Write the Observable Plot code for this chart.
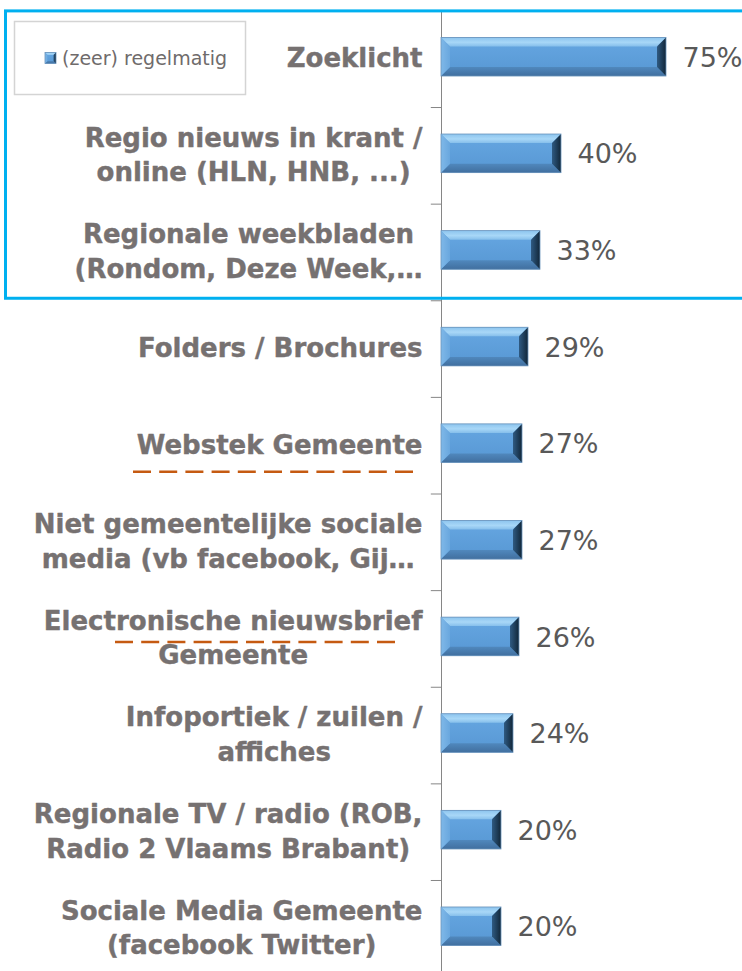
<!DOCTYPE html>
<html><head><meta charset="utf-8">
<script src="https://cdn.jsdelivr.net/npm/d3@7"></script>
<script src="https://cdn.jsdelivr.net/npm/@observablehq/plot@0.6"></script>
<style>body{margin:0;background:#fff} #chart{position:relative;width:742px;height:971px;overflow:hidden}</style>
</head><body><div id="chart"></div>
<script>
const categories = [
  "Zoeklicht",
  "Regio nieuws in krant /\nonline (HLN, HNB, ...)",
  "Regionale weekbladen\n(Rondom, Deze Week,…",
  "Folders / Brochures",
  "Webstek Gemeente",
  "Niet gemeentelijke sociale\nmedia (vb facebook, Gij…",
  "Electronische nieuwsbrief\nGemeente",
  "Infoportiek / zuilen /\naffiches",
  "Regionale TV / radio (ROB,\nRadio 2 Vlaams Brabant)",
  "Sociale Media Gemeente\n(facebook Twitter)"
];
const values = [75, 40, 33, 29, 27, 27, 26, 24, 20, 20];
const valueLabels = values.map(v => v + "%");
const seriesName = "(zeer) regelmatig";
const highlighted = categories.slice(0, 3);
const underlined = ["Webstek Gemeente", "Electronische nieuwsbrief\nGemeente"];

const data = categories.map((c, i) => ({category: c, value: values[i], label: valueLabels[i]}));

const plot = Plot.plot({
  width: 742, height: 971,
  marginLeft: 441, marginRight: 1, marginTop: 10, marginBottom: 0,
  x: {domain: [0, 100], range: [441, 741], axis: null},
  y: {domain: categories, range: [10.4, 976.6], padding: 0, round: false, axis: null},
  style: {background: "#fff", overflow: "visible"},
  marks: [
    Plot.text(data, {x: 0, y: "category", text: "category", dx: -19, dy: -3, textAnchor: "end",
      fontSize: 26, fontWeight: "bold", fill: "#767171", stroke: "#767171", strokeWidth: 0.4,
      lineHeight: 1.33, fontFamily: "DejaVu Sans"}),
    Plot.ruleX([0], {stroke: "#868686", strokeWidth: 1}),
    Plot.ruleY(categories.slice(1), {y: d => d, x1: -3.4, x2: 0, dy: -48.3, stroke: "#868686"}),
    Plot.barX(data, {x: "value", y: "category", insetTop: 27, insetBottom: 31, fill: "#5b9bd5"}),
    Plot.text(data, {x: "value", y: "category", text: "label", dx: 16, dy: -1, textAnchor: "start",
      fontSize: 27, fill: "#595959", fontFamily: "DejaVu Sans"})
  ]
});
document.getElementById("chart").append(plot);

const svg = d3.select(plot);
const defs = svg.insert("defs", ":first-child");
function lin(id, stops, horiz) {
  const g = defs.append("linearGradient").attr("id", id)
    .attr("x1", 0).attr("y1", 0).attr("x2", horiz ? 1 : 0).attr("y2", horiz ? 0 : 1);
  stops.forEach(([o, c]) => g.append("stop").attr("offset", o).attr("stop-color", c));
}
lin("face", [[0, "#66a7e2"], [1, "#5797d3"]]);
lin("topG", [[0, "#8cc4ee"], [0.55, "#a8d7f7"], [1, "#86bfeb"]]);
lin("botG", [[0, "#5088bd"], [1, "#416f9f"]]);
lin("rightG", [[0, "#2f5a82"], [1, "#112638"]], true);
lin("leftG", [[0, "#7fb8e8"], [1, "#69a7de"]], true);

function bevel(parent, x, y, w, h, b) {
  const g = parent.append("g");
  g.append("rect").attr("x", x).attr("y", y).attr("width", w).attr("height", h).attr("fill", "url(#face)");
  const P = pts => pts.map(p => p.join(",")).join(" ");
  g.append("polygon").attr("points", P([[x, y], [x + w, y], [x + w - b, y + b], [x + b, y + b]])).attr("fill", "url(#topG)");
  g.append("polygon").attr("points", P([[x, y + h], [x + w, y + h], [x + w - b, y + h - b], [x + b, y + h - b]])).attr("fill", "url(#botG)");
  g.append("polygon").attr("points", P([[x, y], [x + b, y + b], [x + b, y + h - b], [x, y + h]])).attr("fill", "url(#leftG)");
  g.append("polygon").attr("points", P([[x + w, y], [x + w - b, y + b], [x + w - b, y + h - b], [x + w, y + h]])).attr("fill", "url(#rightG)");
  g.append("rect").attr("x", x).attr("y", y).attr("width", w).attr("height", h)
    .attr("fill", "none").attr("stroke", "#6a93bb").attr("stroke-width", 0.8);
}

// bevel bars
svg.selectAll('g[aria-label="bar"] rect').each(function () {
  const r = d3.select(this);
  const x = +r.attr("x"), y = +r.attr("y"), w = +r.attr("width"), h = +r.attr("height");
  const parent = d3.select(this.parentNode);
  bevel(parent, x, y, w, h, Math.min(9, h / 4, w / 4));
  r.attr("fill", "none");
});

// center-align multi-line category labels (block right-aligned)
const labelGroup = svg.select('g[aria-label="text"]').node();
labelGroup.querySelectorAll("text").forEach(t => {
  const spans = t.querySelectorAll("tspan");
  if (spans.length > 1) {
    const W = Math.max(...Array.from(spans, s => s.getComputedTextLength()));
    t.setAttribute("text-anchor", "middle");
    spans.forEach(s => s.setAttribute("x", -W / 2));
  }
});

const yS = plot.scale("y");
const xS = plot.scale("x");
const step = (yS.range[1] - yS.range[0]) / categories.length;
const yTop = c => yS.range[0] + step * categories.indexOf(c);

// dashed orange underlines
const x0 = xS.range[0];
const ul = svg.append("g").attr("stroke", "#c55a11").attr("stroke-width", 2.5).attr("stroke-dasharray", "18,8.2");
ul.append("line").attr("x1", x0 - 308).attr("x2", x0 - 28)
  .attr("y1", yTop(underlined[0]) + step / 2 + 26.5).attr("y2", yTop(underlined[0]) + step / 2 + 26.5);
ul.append("line").attr("x1", x0 - 326).attr("x2", x0 - 46)
  .attr("y1", yTop(underlined[1]) + step / 2 + 3.5).attr("y2", yTop(underlined[1]) + step / 2 + 3.5);

// highlight box around first categories
const hTop = yTop(highlighted[0]) + 0.5;
const hBot = yTop(highlighted[highlighted.length - 1]) + step - 2;
svg.append("rect").attr("x", 5.5).attr("y", hTop).attr("width", 745).attr("height", hBot - hTop)
  .attr("fill", "none").attr("stroke", "#00b0f0").attr("stroke-width", 3);

// legend
const lg = svg.append("g");
lg.append("rect").attr("x", 14.5).attr("y", 21.5).attr("width", 231).attr("height", 73)
  .attr("fill", "#fff").attr("stroke", "#d4d4d4").attr("stroke-width", 1.5);
bevel(lg, 45, 52.5, 11, 11, 2.5);
lg.append("text").attr("x", 62).attr("y", 58).attr("dy", "0.35em").attr("text-anchor", "start")
  .attr("font-family", "DejaVu Sans").attr("font-size", 19).attr("fill", "#6f6b6b")
  .text(seriesName);
</script>
</body></html>
